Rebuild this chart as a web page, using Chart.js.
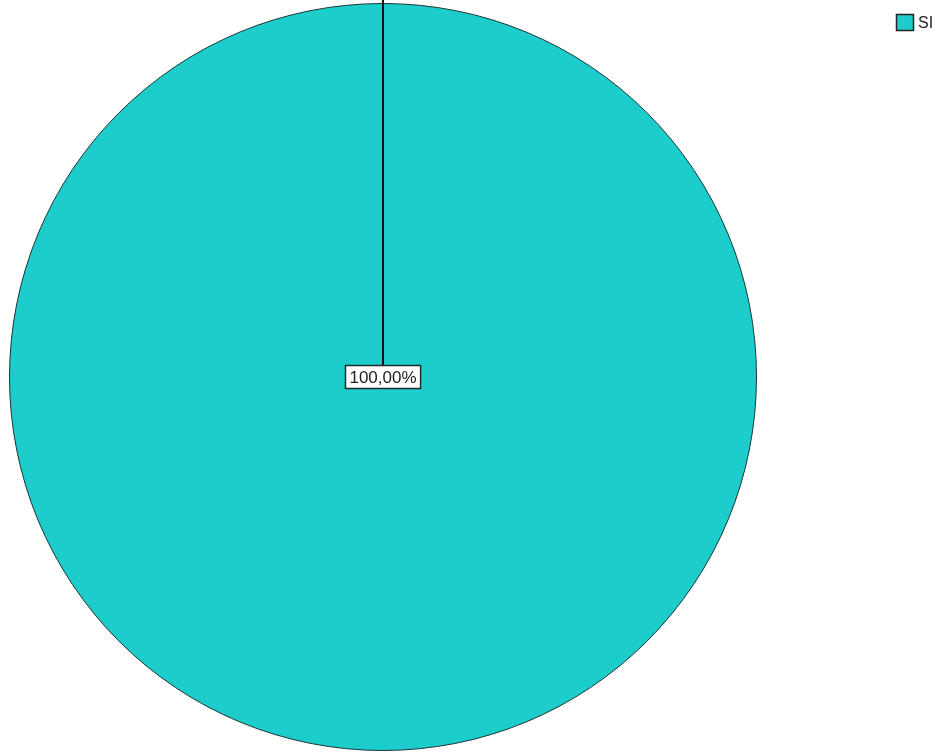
<!DOCTYPE html>
<html>
<head>
<meta charset="utf-8">
<script src="https://cdn.jsdelivr.net/npm/chart.js@4"></script>
<style>
  html, body { margin: 0; padding: 0; background: #fff; }
  #wrap { width: 945px; height: 755px; position: relative; }
</style>
</head>
<body>
<div id="wrap"><canvas id="chart"></canvas></div>
<script>
// values
const categories = ['SI'];
const shares = [100];
const sliceLabels = ['100,00%'];
const sliceColors = ['#1ccdcc'];

// leader line from the slice edge and the boxed percentage label
const sliceLabelPlugin = {
  id: 'sliceLabel',
  afterDatasetsDraw(chart) {
    const ctx = chart.ctx;
    const meta = chart.getDatasetMeta(0);
    meta.data.forEach((arc, i) => {
      const p = arc.getProps(['x', 'y', 'startAngle', 'outerRadius']);
      const ex = p.x + Math.cos(p.startAngle) * (p.outerRadius + 4);
      const ey = p.y + Math.sin(p.startAngle) * (p.outerRadius + 4);
      ctx.save();
      ctx.strokeStyle = '#111';
      ctx.lineWidth = 2;
      ctx.beginPath();
      ctx.moveTo(ex, ey);
      ctx.lineTo(p.x, p.y);
      ctx.stroke();

      ctx.font = '17px "Liberation Sans", Arial, sans-serif';
      const text = sliceLabels[i];
      const w = ctx.measureText(text).width + 9;
      const h = 24;
      const bx = Math.round(p.x - w / 2);
      const by = Math.round(p.y - 12);
      ctx.fillStyle = '#fff';
      ctx.fillRect(bx, by, w, h);
      ctx.lineWidth = 1.5;
      ctx.strokeStyle = '#1a2a2a';
      ctx.strokeRect(bx + 0.5, by + 0.5, w - 1, h - 1);
      ctx.fillStyle = '#222';
      ctx.textAlign = 'center';
      ctx.textBaseline = 'middle';
      ctx.fillText(text, p.x, by + h / 2 + 1);
      ctx.restore();
    });
  }
};

// legend at the top right, like the original
const sideLegendPlugin = {
  id: 'sideLegend',
  afterDraw(chart) {
    const ctx = chart.ctx;
    const colors = chart.data.datasets[0].backgroundColor;
    ctx.save();
    chart.data.labels.forEach((lab, i) => {
      const x = 896, y = 14 + i * 24;
      ctx.fillStyle = colors[i];
      ctx.fillRect(x, y, 18, 17);
      ctx.strokeStyle = '#222';
      ctx.lineWidth = 1.5;
      ctx.strokeRect(x + 0.5, y + 0.5, 17, 16);
      ctx.fillStyle = '#222';
      ctx.font = '16px "Liberation Sans", Arial, sans-serif';
      ctx.textBaseline = 'middle';
      ctx.fillText(lab, x + 22, y + 10);
    });
    ctx.restore();
  }
};

new Chart(document.getElementById('chart'), {
  type: 'pie',
  data: {
    labels: categories,
    datasets: [{
      data: shares,
      backgroundColor: sliceColors,
      borderColor: '#1a3535',
      borderWidth: 1
    }]
  },
  options: {
    responsive: true,
    maintainAspectRatio: false,
    animation: false,
    layout: { padding: { left: 9, top: 3, bottom: 4, right: 188 } },
    plugins: {
      legend: { display: false },
      tooltip: { enabled: false }
    }
  },
  plugins: [sliceLabelPlugin, sideLegendPlugin]
});
</script>
</body>
</html>
